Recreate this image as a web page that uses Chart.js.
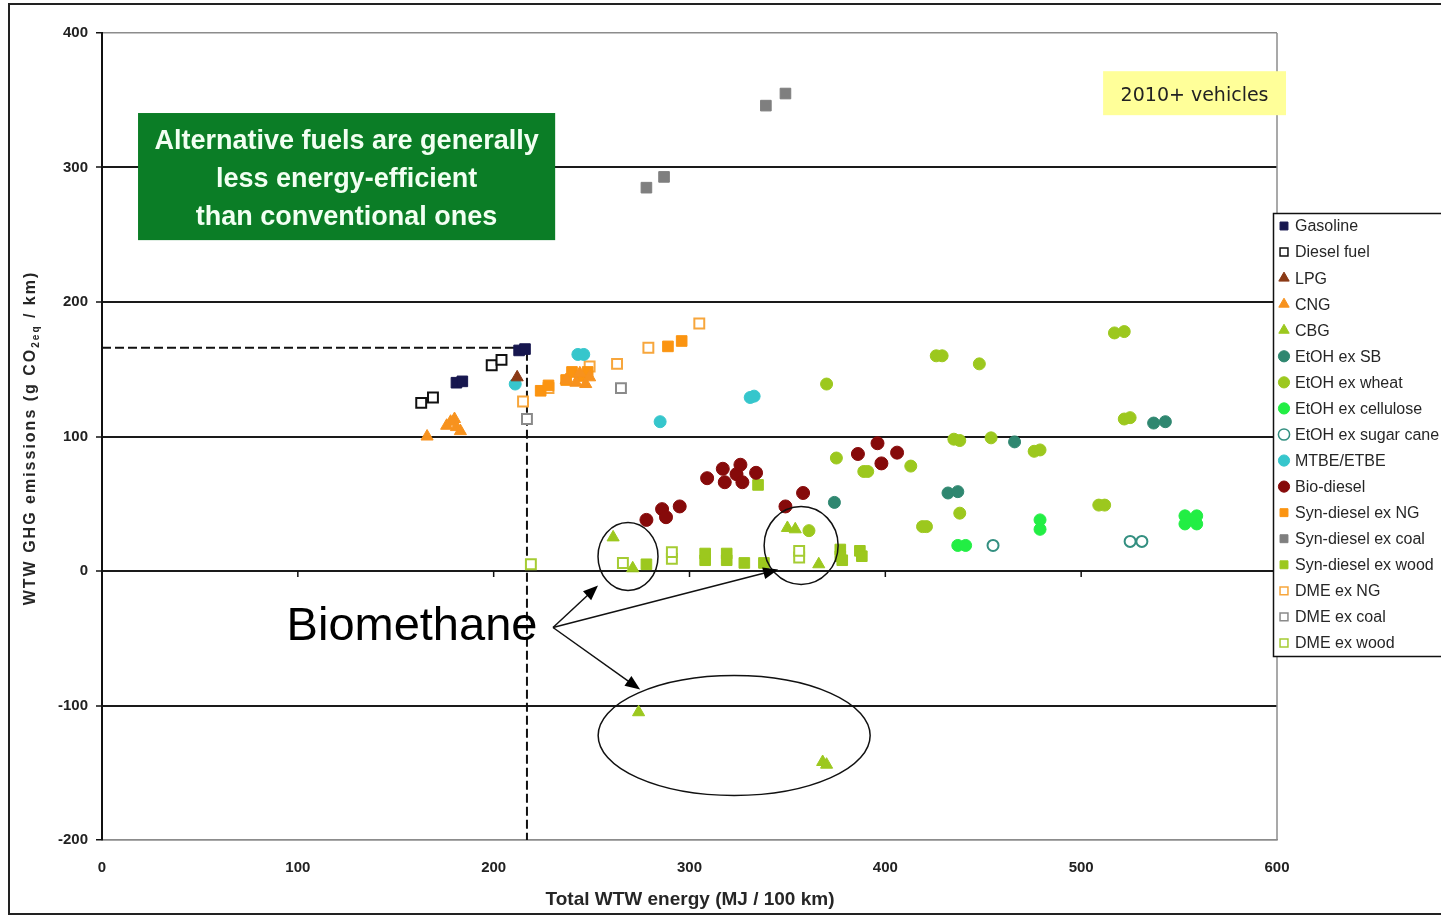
<!DOCTYPE html>
<html><head><meta charset="utf-8">
<script src="https://cdn.jsdelivr.net/npm/chart.js@4.4.1/dist/chart.umd.min.js"></script>
<style>html,body{margin:0;padding:0;background:#fff;overflow:hidden}canvas{display:block}</style>
</head><body>
<canvas id="c" width="1441" height="917"></canvas>
<script>
// ---- data (x = Total WTW energy MJ/100km, y = WTW GHG g CO2eq/km) ----
const xTicks = [0,100,200,300,400,500,600];
const yTicks = [-200,-100,0,100,200,300,400];
const gasoline = [[181,140],[184,141],[213,164],[216,165]];
const dieselFuel = [[163,125],[169,129],[199,153],[204,157]];
const lpg = [[212,144]];
const cng = [[166,100],[176,108],[178,111],[180,113],[183,104],[181,107],[237,142],[242,140],[247,139],[249,144],[244,147]];
const cbg = [[261,25],[271,2],[274,-105],[350,32],[354,31],[366,5],[368,-142],[370,-144]];
const etohSB = [[374,51],[432,58],[437,59],[466,96],[537,110],[543,111]];
const etohWheat = [[370,139],[361,30],[375,84],[389,74],[391,74],[413,78],[426,160],[429,160],[448,154],[435,98],[438,97],[454,99],[476,89],[479,90],[438,43],[419,33],[421,33],[509,49],[512,49],[517,177],[522,178],[522,113],[525,114]];
const etohCellulose = [[437,19],[441,19],[479,38],[479,31],[553,41],[559,41],[553,35],[559,35],[556,38]];
const etohSugarCane = [[455,19],[525,22],[531,22]];
const mtbeEtbe = [[211,139],[243,161],[246,161],[285,111],[331,129],[333,130]];
const bioDiesel = [[278,38],[286,46],[288,40],[295,48],[309,69],[317,76],[318,66],[324,72],[326,79],[327,66],[334,73],[349,48],[358,58],[386,87],[396,95],[398,80],[406,88]];
const synDieselNG = [[224,134],[228,138],[237,142],[240,148],[244,145],[248,148],[289,167],[296,171]];
const synDieselCoal = [[278,285],[287,293],[339,346],[349,355]];
const synDieselWood = [[278,5],[308,8],[308,13],[319,8],[319,13],[328,6],[338,6],[335,64],[377,16],[377,11],[387,15],[388,11],[378,8]];
const dmeNG = [[215,126],[228,136],[249,152],[263,154],[279,166],[305,184]];
const dmeCoal = [[217,113],[265,136]];
const dmeWood = [[219,5],[266,6],[291,9],[291,14],[356,10],[356,15]];
const refLine = [[0,166],[217,166],[217,-200]];

const FONT = "'Liberation Sans', Arial, sans-serif";

function ds(label, pts, style, color, filled, r){
  return {
    label, data: pts.map(([x,y])=>({x,y})), pointStyle: style, pointRadius: r,
    backgroundColor: filled ? color : '#ffffff', borderColor: color,
    borderWidth: filled ? 1 : 2, showLine: false
  };
}
const datasets = [
  ds('Gasoline', gasoline, 'rect', '#17174f', true, 7.5),
  ds('Diesel fuel', dieselFuel, 'rect', '#111111', false, 7),
  ds('LPG', lpg, 'triangle', '#8b3a16', true, 7),
  ds('CNG', cng, 'triangle', '#f7921e', true, 7),
  ds('CBG', cbg, 'triangle', '#9cc81e', true, 7),
  ds('EtOH ex SB', etohSB, 'circle', '#2f8770', true, 6),
  ds('EtOH ex wheat', etohWheat, 'circle', '#9cc81e', true, 6),
  ds('EtOH ex cellulose', etohCellulose, 'circle', '#22ee44', true, 6),
  ds('EtOH ex sugar cane', etohSugarCane, 'circle', '#338f80', false, 5.5),
  ds('MTBE/ETBE', mtbeEtbe, 'circle', '#36c6cc', true, 6),
  ds('Bio-diesel', bioDiesel, 'circle', '#860a0a', true, 6.5),
  ds('Syn-diesel ex NG', synDieselNG, 'rect', '#fb9411', true, 7.5),
  ds('Syn-diesel ex coal', synDieselCoal, 'rect', '#7f7f7f', true, 7.5),
  ds('Syn-diesel ex wood', synDieselWood, 'rect', '#9cc81e', true, 7.5),
  ds('DME ex NG', dmeNG, 'rect', '#f7a63c', false, 7),
  ds('DME ex coal', dmeCoal, 'rect', '#8a8a8a', false, 7),
  ds('DME ex wood', dmeWood, 'rect', '#a5cc33', false, 7),
  { label:'', hideInLegend:true, type:'line', data: refLine.map(([x,y])=>({x,y})),
    borderColor:'#111', borderWidth:2, borderDash:[9,4], pointRadius:0, fill:false, tension:0 }
];

function px(c, x){ return c.scales.x.getPixelForValue(x); }
function py(c, y){ return c.scales.y.getPixelForValue(y); }

function arrow(ctx, x1,y1,x2,y2){
  const a = Math.atan2(y2-y1, x2-x1), L=15, W=6;
  ctx.beginPath(); ctx.moveTo(x1,y1); ctx.lineTo(x2 - Math.cos(a)*L*0.8, y2 - Math.sin(a)*L*0.8); ctx.stroke();
  ctx.beginPath();
  ctx.moveTo(x2,y2);
  ctx.lineTo(x2 - Math.cos(a)*L - Math.sin(a)*W, y2 - Math.sin(a)*L + Math.cos(a)*W);
  ctx.lineTo(x2 - Math.cos(a)*L + Math.sin(a)*W, y2 - Math.sin(a)*L - Math.cos(a)*W);
  ctx.closePath(); ctx.fill();
}

const decor = {
  id:'decor',
  afterDatasetsDraw(c){
    const ctx = c.ctx; ctx.save();
    const a = c.chartArea;
    // right frame line
    ctx.strokeStyle='#8c8c8c'; ctx.lineWidth=1.5;
    ctx.beginPath(); ctx.moveTo(a.right, a.top); ctx.lineTo(a.right, a.bottom); ctx.stroke();
    // x tick marks on the zero line
    ctx.strokeStyle='#111'; ctx.lineWidth=1.5;
    const y0 = py(c,0);
    xTicks.forEach(v=>{ if(v>0 && v<600){ const X=px(c,v); ctx.beginPath(); ctx.moveTo(X,y0); ctx.lineTo(X,y0+6); ctx.stroke(); }});
    // green box
    const gx1=px(c,18.4), gx2=px(c,231.4), gy1=py(c,340.5), gy2=py(c,246);
    ctx.fillStyle='#0b7d26'; ctx.fillRect(gx1,gy1,gx2-gx1,gy2-gy1);
    ctx.fillStyle='#f2fff2'; ctx.font='bold 27px '+FONT; ctx.textAlign='center'; ctx.textBaseline='middle';
    const gc=(gx1+gx2)/2, gm=(gy1+gy2)/2;
    ['Alternative fuels are generally','less energy-efficient','than conventional ones'].forEach((t,i)=>ctx.fillText(t,gc,gm+3+(i-1)*38));
    // yellow box
    const yx1=px(c,511.2), yx2=px(c,604.6), yy1=py(c,371.6), yy2=py(c,338.9);
    ctx.fillStyle='#ffff99'; ctx.fillRect(yx1,yy1,yx2-yx1,yy2-yy1);
    ctx.fillStyle='#222'; ctx.font="19px 'DejaVu Sans', Verdana, sans-serif";
    ctx.fillText('2010+ vehicles',(yx1+yx2)/2,(yy1+yy2)/2+3);
    // ellipses
    ctx.strokeStyle='#111'; ctx.lineWidth=1.5;
    [[268.6,10.8,30,34],[357,19,37,39],[322.8,-122.3,136,60]].forEach(([x,y,rx,ry])=>{
      ctx.beginPath(); ctx.ellipse(px(c,x),py(c,y),rx,ry,0,0,Math.PI*2); ctx.stroke();
    });
    // Biomethane label + arrows
    ctx.fillStyle='#000'; ctx.font='47px '+FONT; ctx.textAlign='center'; ctx.textBaseline='middle';
    ctx.fillText('Biomethane', px(c,158.3), py(c,-42));
    const sx=px(c,230.3), sy=py(c,-42);
    ctx.lineWidth=1.5;
    [[253.3,-10.8],[345.3,1.1],[274.8,-88.1]].forEach(([x,y])=>arrow(ctx,sx,sy,px(c,x),py(c,y)));
    ctx.restore();
  },
  afterDraw(c){
    const ctx=c.ctx; ctx.save();
    // legend
    ctx.fillStyle='#fff'; ctx.fillRect(1273,213,200,443);
    ctx.strokeStyle='#111'; ctx.lineWidth=1.5; ctx.strokeRect(1273.5,213.5,200,443);
    ctx.font='16px '+FONT; ctx.textAlign='left'; ctx.textBaseline='middle';
    let i=0;
    c.data.datasets.forEach(d=>{
      if(d.hideInLegend) return;
      const y=226+i*26.06; i++;
      ctx.save();
      ctx.fillStyle=d.backgroundColor; ctx.strokeStyle=d.borderColor; ctx.lineWidth=d.borderWidth===2?1.5:1;
      Chart.helpers.drawPoint(ctx,{pointStyle:d.pointStyle,radius:d.pointStyle==='triangle'?6:5.6,rotation:0,borderWidth:ctx.lineWidth},1284,y);
      ctx.restore();
      ctx.fillStyle='#262626'; ctx.fillText(d.label,1295,y+1);
    });
    // axis titles
    ctx.fillStyle='#262626'; ctx.textBaseline='middle';
    ctx.font='bold 19px '+FONT; ctx.textAlign='center';
    ctx.fillText('Total WTW energy (MJ / 100 km)', 690, 900);
    ctx.save(); ctx.translate(31,438); ctx.rotate(-Math.PI/2);
    const big='bold 16px '+FONT, small='bold 10px '+FONT;
    try{ ctx.letterSpacing='2px'; }catch(e){}
    const parts=[['WTW GHG emissions (g CO',big,0],['2eq',small,5],[' / km)',big,0]];
    let w=0; parts.forEach(p=>{ctx.font=p[1]; w+=ctx.measureText(p[0]).width;});
    let x=-w/2; ctx.textAlign='left';
    parts.forEach(p=>{ctx.font=p[1]; ctx.fillText(p[0],x,p[2]); x+=ctx.measureText(p[0]).width;});
    ctx.restore();
    // outer frame
    ctx.strokeStyle='#222'; ctx.lineWidth=2;
    ctx.strokeRect(9,4,1500,910);
    ctx.restore();
  }
};

new Chart(document.getElementById('c'), {
  type:'scatter',
  data:{ datasets },
  options:{
    responsive:false, animation:false, events:[],
    layout:{ padding:{ top:33, right:164, left:0, bottom:0 } },
    plugins:{ legend:{display:false}, tooltip:{enabled:false} },
    scales:{
      x:{ type:'linear', min:0, max:600,
        afterBuildTicks: s=>{ s.ticks = xTicks.map(v=>({value:v})); },
        afterFit: s=>{ s.height = 77; },
        ticks:{ font:{family:FONT, size:15, weight:'bold'}, color:'#222', padding:19, maxRotation:0 },
        grid:{ display:false, drawTicks:false },
        border:{ display:true, color:'#8c8c8c', width:1.5 }
      },
      y:{ type:'linear', min:-200, max:400,
        afterBuildTicks: s=>{ s.ticks = yTicks.map(v=>({value:v})); },
        afterFit: s=>{ s.width = 102; },
        ticks:{ font:{family:FONT, size:15, weight:'bold'}, color:'#222', padding:8 },
        grid:{ drawTicks:true, tickLength:6, tickColor:'#111', tickWidth:1.5,
          color: ctx => (ctx.tick && (ctx.tick.value===400 || ctx.tick.value===-200)) ? '#8c8c8c' : '#1a1a1a',
          lineWidth: ctx => (ctx.tick && (ctx.tick.value===400 || ctx.tick.value===-200)) ? 1.5 : 2 },
        border:{ display:true, color:'#111', width:2 }
      }
    }
  },
  plugins:[decor]
});
</script>
</body></html>
